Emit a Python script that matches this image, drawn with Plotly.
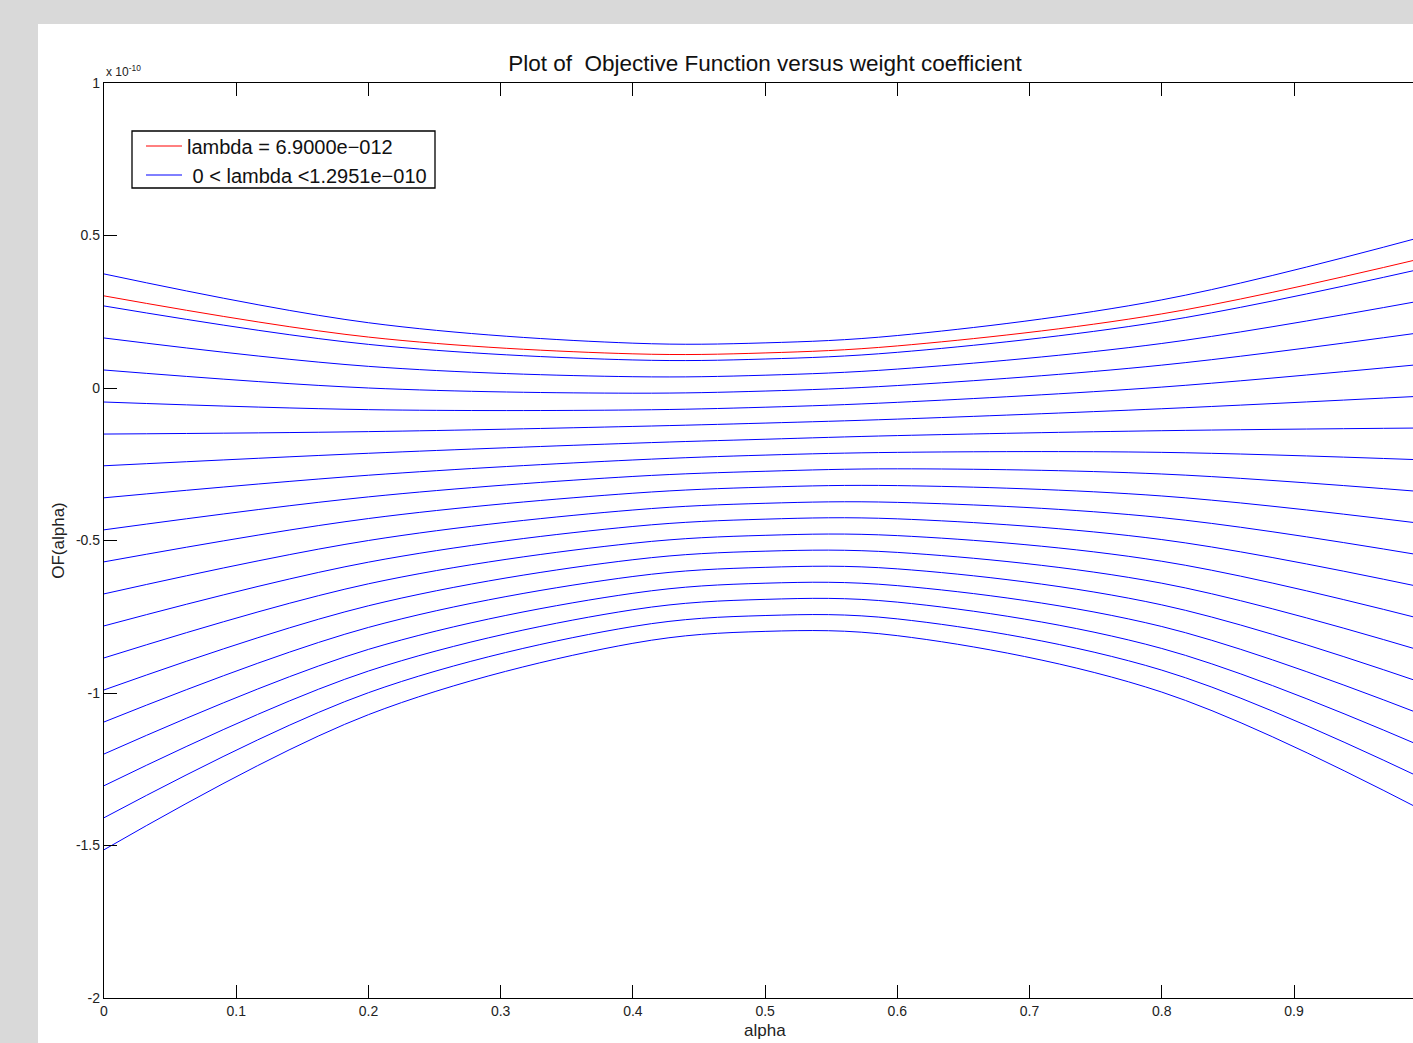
import plotly.graph_objects as go

# alpha sample points (x)
alpha = [0.0, 0.2, 0.4, 0.5, 0.6, 0.8, 1.0]

# red curve: lambda = 6.9000e-012  (values in units of 1e-10)
red_curve = [0.302, 0.167, 0.112, 0.115, 0.138, 0.243, 0.428]

# blue family: 0 < lambda < 1.2951e-010 (values in units of 1e-10)
blue_01 = [0.374, 0.214, 0.147, 0.148, 0.172, 0.289, 0.499]
blue_02 = [0.269, 0.143, 0.092, 0.095, 0.117, 0.218, 0.394]
blue_03 = [0.164, 0.071, 0.037, 0.042, 0.062, 0.146, 0.289]
blue_04 = [0.059, 0.000, -0.017, -0.010, 0.008, 0.075, 0.184]
blue_05 = [-0.046, -0.071, -0.072, -0.063, -0.047, 0.003, 0.079]
blue_06 = [-0.151, -0.143, -0.126, -0.115, -0.102, -0.068, -0.026]
blue_07 = [-0.255, -0.214, -0.181, -0.168, -0.156, -0.140, -0.131]
blue_08 = [-0.360, -0.286, -0.236, -0.220, -0.211, -0.211, -0.236]
blue_09 = [-0.465, -0.357, -0.290, -0.273, -0.265, -0.282, -0.341]
blue_10 = [-0.570, -0.428, -0.345, -0.325, -0.320, -0.354, -0.446]
blue_11 = [-0.675, -0.500, -0.400, -0.378, -0.375, -0.425, -0.551]
blue_12 = [-0.780, -0.571, -0.454, -0.430, -0.429, -0.497, -0.656]
blue_13 = [-0.885, -0.642, -0.509, -0.483, -0.484, -0.568, -0.761]
blue_14 = [-0.990, -0.714, -0.563, -0.535, -0.539, -0.640, -0.866]
blue_15 = [-1.095, -0.785, -0.618, -0.588, -0.593, -0.711, -0.971]
blue_16 = [-1.200, -0.857, -0.673, -0.640, -0.648, -0.782, -1.076]
blue_17 = [-1.304, -0.928, -0.727, -0.693, -0.702, -0.854, -1.181]
blue_18 = [-1.409, -0.999, -0.782, -0.746, -0.757, -0.925, -1.286]
blue_19 = [-1.514, -1.071, -0.837, -0.798, -0.812, -0.997, -1.391]

blue_curves = [blue_01, blue_02, blue_03, blue_04, blue_05, blue_06, blue_07,
               blue_08, blue_09, blue_10, blue_11, blue_12, blue_13, blue_14,
               blue_15, blue_16, blue_17, blue_18, blue_19]

x_tickvals = [0, 0.1, 0.2, 0.3, 0.4, 0.5, 0.6, 0.7, 0.8, 0.9]
x_ticktext = ["0", "0.1", "0.2", "0.3", "0.4", "0.5", "0.6", "0.7", "0.8", "0.9"]
y_tickvals = [1, 0.5, 0, -0.5, -1, -1.5, -2]
y_ticktext = ["1", "0.5", "0", "-0.5", "-1", "-1.5", "-2"]

FONT = "Liberation Sans, Arial, Helvetica, sans-serif"

fig = go.Figure()
for i, yv in enumerate(blue_curves):
    fig.add_trace(go.Scatter(
        x=alpha, y=yv, mode="lines",
        line=dict(color="#0000ff", width=1, shape="spline", smoothing=1.0),
        name=" 0 < lambda <1.2951e\u2212010",
        showlegend=(i == 0), legendrank=2, hoverinfo="skip"))
fig.add_trace(go.Scatter(
    x=alpha, y=red_curve, mode="lines",
    line=dict(color="#ff0000", width=1, shape="spline", smoothing=1.0),
    name="lambda = 6.9000e\u2212012", showlegend=True, legendrank=1,
    hoverinfo="skip"))

W, H = 1413, 1043
L, R, T, B = 104, 0, 83, 45
pw = W - L - R
ph = H - T - B

def px_x(p):
    return (p - L) / pw

def px_y(p):
    return (H - B - p) / ph

fig.update_layout(
    width=W, height=H,
    margin=dict(l=L, r=R, t=T, b=B),
    paper_bgcolor="#d9d9d9",
    plot_bgcolor="white",
    font=dict(family=FONT, color="#222222", size=14),
    title=dict(text="Plot of  Objective Function versus weight coefficient",
               x=0.505, xref="paper", xanchor="center",
               y=1 - 63 / H, yref="container", yanchor="middle",
               font=dict(size=22.5, color="#111111", family=FONT)),
    showlegend=True,
    legend=dict(x=px_x(141), y=px_y(126.5), xanchor="left", yanchor="top",
                bgcolor="rgba(0,0,0,0)", borderwidth=0,
                font=dict(size=20, color="#111111", family=FONT),
                tracegroupgap=0, itemwidth=36),
    shapes=[
        dict(type="rect", xref="paper", yref="paper",
             x0=px_x(38), x1=px_x(W + 50), y0=px_y(H + 50), y1=px_y(24),
             fillcolor="white", line=dict(width=0), layer="below"),
        dict(type="rect", xref="paper", yref="paper",
             x0=px_x(132), x1=px_x(435), y0=px_y(188), y1=px_y(131),
             fillcolor="rgba(0,0,0,0)", line=dict(width=1.3, color="black"),
             layer="above"),
    ],
    annotations=[
        dict(text="x 10<sup>-10</sup>", x=0.0, y=px_y(71), xref="paper",
             yref="paper", xanchor="left", yanchor="middle", showarrow=False,
             font=dict(size=12, color="#222222", family=FONT)),
        dict(text="alpha", x=0.505, y=px_y(1030), xref="paper", yref="paper",
             xanchor="center", yanchor="middle", showarrow=False,
             font=dict(size=17, color="#222222", family=FONT)),
    ],
)

fig.update_xaxes(range=[0, 0.99], tickvals=x_tickvals, ticktext=x_ticktext,
                 ticks="inside", ticklen=13, tickwidth=1.3, tickcolor="black",
                 showline=True, linecolor="black", linewidth=1.3,
                 mirror="ticks", showgrid=False, zeroline=False,
                 tickfont=dict(size=14, color="#222222"))
fig.update_yaxes(range=[-2, 1], tickvals=y_tickvals, ticktext=y_ticktext,
                 ticks="inside", ticklen=13, tickwidth=1.3, tickcolor="black",
                 showline=True, linecolor="black", linewidth=1.3,
                 showgrid=False, zeroline=False,
                 tickfont=dict(size=14, color="#222222"),
                 title=dict(text="OF(alpha)", standoff=6,
                            font=dict(size=17, color="#222222")))

fig.write_html(
    "out.html",
    config={"displayModeBar": False},
    post_script="document.body.style.margin='0';"
                "document.body.style.overflow='hidden';")
